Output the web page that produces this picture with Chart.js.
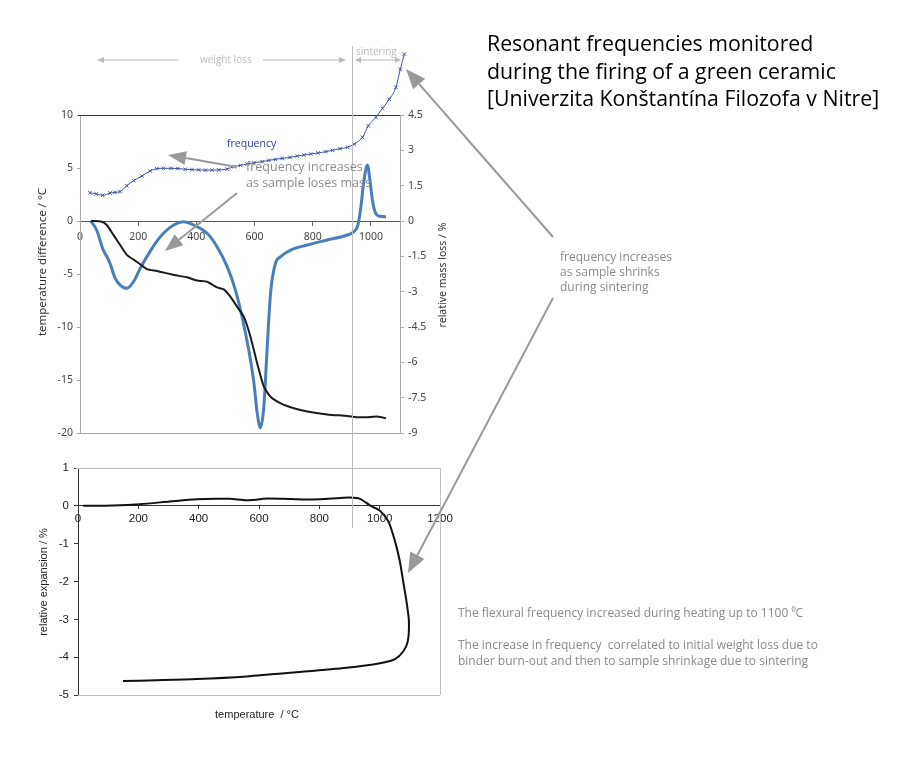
<!DOCTYPE html>
<html>
<head>
<meta charset="utf-8">
<script src="https://cdn.jsdelivr.net/npm/chart.js@4.4.1/dist/chart.umd.min.js"></script>
<style>
  body { margin: 0; background: #fff; }
  #page { position: relative; width: 910px; height: 768px; overflow: hidden; font-family: "Open Sans", sans-serif; }
  canvas { position: absolute; left: 0; }
  #upper { top: 0; }
  #lower { top: 450px; }
  svg { position: absolute; left: 0; top: 0; }
  .t { position: absolute; white-space: nowrap; }
  .rot { transform: translate(-50%, -50%) rotate(-90deg); }
  .mid { transform: translate(-50%, -50%); }
</style>
</head>
<body>
<div id="page">
  <canvas id="upper" width="460" height="445"></canvas>
  <canvas id="lower" width="460" height="285"></canvas>
  <svg id="notes" width="910" height="768"></svg>

  <div class="t rot" style="left:41px;top:262px;font:11.5px 'Noto Sans';color:#333">temperature difference / °C</div>
  <div class="t rot" style="left:442px;top:275px;font:10.5px 'Noto Sans';color:#333">relative mass loss / %</div>
  <div class="t rot" style="left:43px;top:582px;font:11px 'Liberation Sans';color:#222">relative expansion / %</div>
  <div class="t mid" style="left:257px;top:714px;font:11px 'Liberation Sans';color:#222">temperature&nbsp; / °C</div>

  <div class="t" style="left:200px;top:52px;font:10px 'Open Sans';color:#bbb">weight loss</div>
  <div class="t" style="left:356px;top:44px;font:10px 'Open Sans';color:#bbb">sintering</div>
  <div class="t" style="left:227px;top:136px;font:10.5px 'Open Sans';color:#2c3d96">frequency</div>
  <div class="t" style="left:246px;top:159px;font:12.5px/15.7px 'Open Sans';color:#8c8c8c">frequency increases<br>as sample loses mass</div>
  <div class="t" style="left:560px;top:249px;font:12px/15px 'Open Sans';color:#8a8a8a">frequency increases<br>as sample shrinks<br>during sintering</div>

  <div class="t" style="left:487px;top:29px;font:21.3px/27.5px 'Open Sans';color:#000">Resonant frequencies monitored<br>during the firing of a green ceramic<br>[Univerzita Konštantína Filozofa v Nitre]</div>

  <div class="t" style="left:458px;top:605px;font:12px/16px 'Open Sans';color:#8a8a8a">The flexural frequency increased during heating up to 1100 ⁰C</div>
  <div class="t" style="left:458px;top:637px;font:12px/16px 'Open Sans';color:#8a8a8a">The increase in frequency&nbsp; correlated to initial weight loss due to<br>binder burn-out and then to sample shrinkage due to sintering</div>
</div>

<script>
// upper chart: temperature (°C) on x
const freqT = [34, 56, 78, 103, 120, 138, 161, 184, 213, 241, 264, 287, 313, 336, 362, 385, 408, 431, 454, 477, 506, 529, 552, 575, 598, 626, 649, 672, 695, 722, 747, 770, 793, 818, 845, 868, 894, 920, 943, 971, 991, 1017, 1040, 1063, 1086, 1101, 1115];
const freqVal = [2.67, 2.55, 2.42, 2.64, 2.7, 2.77, 3.33, 3.8, 4.25, 4.72, 4.94, 4.97, 4.97, 4.95, 4.88, 4.85, 4.82, 4.8, 4.8, 4.82, 4.9, 5.13, 5.25, 5.38, 5.5, 5.6, 5.72, 5.82, 5.91, 6.0, 6.13, 6.23, 6.32, 6.42, 6.54, 6.67, 6.82, 6.95, 7.26, 7.9, 8.97, 9.78, 10.63, 11.48, 12.61, 14.31, 15.75];

const dtaT = [37, 57, 80, 95, 103, 121, 138, 161, 184, 207, 230, 259, 287, 322, 356, 391, 437, 471, 506, 534, 557, 580, 598, 609, 620, 632, 643, 655, 672, 690, 724, 781, 850, 919, 942, 955, 965, 975, 988, 997, 1005, 1015, 1030, 1052];
const dtaVal = [0, -0.85, -2.74, -3.5, -3.99, -5.41, -6.04, -6.35, -5.72, -4.47, -3.36, -2.11, -1.16, -0.38, -0.06, -0.38, -1.16, -2.42, -4.31, -6.5, -9.03, -12.17, -15.3, -18.1, -19.5, -17.5, -12.17, -6.82, -3.99, -3.36, -2.74, -2.26, -1.79, -1.32, -1.0, -0.4, 1.2, 3.6, 5.28, 3.8, 2.0, 0.8, 0.45, 0.4];

const tgT = [37, 75, 92, 115, 138, 161, 195, 230, 264, 310, 340, 368, 402, 437, 471, 494, 517, 540, 563, 586, 609, 632, 655, 690, 735, 781, 850, 919, 950, 977, 1000, 1023, 1052];
const tgVal = [0, -0.03, -0.17, -0.59, -1.02, -1.44, -1.73, -2.04, -2.12, -2.25, -2.33, -2.39, -2.53, -2.58, -2.82, -2.9, -3.21, -3.64, -4.06, -4.91, -6.04, -7.03, -7.46, -7.74, -7.95, -8.09, -8.21, -8.28, -8.33, -8.33, -8.32, -8.3, -8.38];

// lower chart: heating then cooling loop
const expT = [17, 116, 205, 304, 393, 459, 503, 559, 592, 614, 680, 747, 802, 857, 901, 935, 968, 1001, 1029, 1051, 1067, 1078, 1089, 1097, 1093, 1078, 1051, 1001, 890, 724, 559, 393, 260, 149];
const expVal = [0, 0.01, 0.044, 0.115, 0.176, 0.19, 0.185, 0.15, 0.16, 0.19, 0.185, 0.168, 0.176, 0.2, 0.22, 0.185, 0.01, -0.13, -0.41, -0.94, -1.47, -2.0, -2.53, -3.06, -3.59, -3.85, -4.05, -4.16, -4.28, -4.4, -4.51, -4.58, -4.61, -4.63];

const tempDiffRange = [-20, 10, 5];
const massLossRange = [-9, 4.5, 1.5];
const upperTempRange = [0, 1100, 200];
const expRange = [-5, 1, 1];
const lowerTempRange = [0, 1200, 200];

const pts = (xs, ys) => xs.map((x, i) => ({ x, y: ys[i] }));
const plain = { useGrouping: false };

// box round the plot area, one colour per side
const frame = {
  id: "frame",
  beforeDatasetsDraw(chart, args, o) {
    const { ctx, chartArea: a } = chart;
    const side = (c, x1, y1, x2, y2) => {
      if (!c) return;
      ctx.beginPath();
      ctx.strokeStyle = c;
      ctx.lineWidth = 1;
      ctx.moveTo(x1, y1);
      ctx.lineTo(x2, y2);
      ctx.stroke();
    };
    ctx.save();
    side(o.top, a.left - 2, Math.round(a.top) + 0.5, a.right, Math.round(a.top) + 0.5);
    side(o.bottom, a.left, Math.round(a.bottom) + 0.5, a.right, Math.round(a.bottom) + 0.5);
    side(o.right, Math.round(a.right) + 0.5, a.top, Math.round(a.right) + 0.5, a.bottom);
    ctx.restore();
  }
};

// chart.js skips points outside the chart area; draw those for unclipped sets
const freePoints = {
  id: "freePoints",
  afterDatasetsDraw(chart) {
    const a = chart.chartArea;
    const whole = { left: 0, top: 0, right: chart.width, bottom: chart.height };
    chart.data.datasets.forEach((ds, i) => {
      if (ds.clip !== false) return;
      chart.getDatasetMeta(i).data.forEach(p => {
        const m = 2.5;
        const inside = p.x > a.left - m && p.x < a.right + m && p.y > a.top - m && p.y < a.bottom + m;
        if (!inside) p.draw(chart.ctx, whole);
      });
    });
  }
};

// range set after the data limits so that points past the end are still drawn
const fixRange = s => { s.min = upperTempRange[0]; s.max = upperTempRange[1]; };

Chart.defaults.plugins.legend.display = false;
Chart.defaults.plugins.tooltip.enabled = false;

new Chart(document.getElementById("upper"), {
  type: "line",
  data: {
    datasets: [
      {
        data: pts(tgT, tgVal),
        yAxisID: "yM",
        borderColor: "#1a1a1a",
        borderWidth: 2,
        pointRadius: 0,
        tension: 0.2
      },
      {
        data: pts(dtaT, dtaVal),
        yAxisID: "yT",
        borderColor: "#4a7ebb",
        borderWidth: 3,
        pointRadius: 0,
        cubicInterpolationMode: "monotone"
      },
      {
        data: pts(freqT, freqVal),
        xAxisID: "xF",
        yAxisID: "yF",
        borderColor: "#3d55a0",
        borderWidth: 1,
        pointStyle: "crossRot",
        pointRadius: 2.5,
        pointBorderWidth: 1,
        pointBorderColor: "#3d55a0",
        cubicInterpolationMode: "monotone",
        clip: false
      }
    ]
  },
  options: {
    responsive: false,
    animation: false,
    layout: { padding: { top: 115, left: 0, right: 0, bottom: 12 } },
    plugins: { frame: { top: "#333", bottom: "#aaa", right: null } },
    scales: {
      x: {
        type: "linear",
        position: { yT: 0 },
        min: upperTempRange[0],
        max: upperTempRange[1],
        ticks: { stepSize: upperTempRange[2], includeBounds: false, format: plain, color: "#444", font: { family: "Noto Sans", size: 10.5 }, padding: 6, maxRotation: 0 },
        grid: { drawOnChartArea: false, tickLength: 4, color: "#666" },
        border: { color: "#555" }
      },
      xF: {
        type: "linear",
        display: false,
        bounds: "data",
        afterDataLimits: fixRange,
        afterBuildTicks: fixRange
      },
      yT: {
        position: "left",
        min: tempDiffRange[0],
        max: tempDiffRange[1],
        ticks: { stepSize: tempDiffRange[2], color: "#444", font: { family: "Noto Sans", size: 10.5 }, padding: 4 },
        grid: { drawOnChartArea: false, tickLength: 3, color: "#aaa" },
        border: { color: "#aaa" },
        afterFit: s => { s.width = 80; }
      },
      yF: {
        display: false,
        position: "left",
        min: tempDiffRange[0],
        max: tempDiffRange[1]
      },
      yM: {
        position: "right",
        min: massLossRange[0],
        max: massLossRange[1],
        ticks: { stepSize: massLossRange[2], color: "#444", font: { family: "Noto Sans", size: 10.5 }, padding: 4 },
        grid: { drawOnChartArea: false, tickLength: 4, color: "#aaa" },
        border: { color: "#aaa" },
        afterFit: s => { s.width = 60; }
      }
    }
  },
  plugins: [frame, freePoints]
});

new Chart(document.getElementById("lower"), {
  type: "line",
  data: {
    datasets: [{
      data: pts(expT, expVal),
      borderColor: "#111",
      borderWidth: 2,
      pointRadius: 0,
      tension: 0.25
    }]
  },
  options: {
    responsive: false,
    animation: false,
    layout: { padding: { top: 18, left: 0, right: 20, bottom: 40 } },
    plugins: { frame: { top: "#c0c0c0", bottom: "#c0c0c0", right: "#c0c0c0" } },
    scales: {
      x: {
        type: "linear",
        position: { y: 0 },
        min: lowerTempRange[0],
        max: lowerTempRange[1],
        ticks: { stepSize: lowerTempRange[2], format: plain, color: "#222", font: { family: "Liberation Sans", size: 11.5 }, padding: 3, maxRotation: 0 },
        grid: { drawOnChartArea: false, tickLength: 3, color: "#333" },
        border: { color: "#333" }
      },
      y: {
        position: "left",
        min: expRange[0],
        max: expRange[1],
        ticks: { stepSize: expRange[2], color: "#222", font: { family: "Liberation Sans", size: 11.5 }, padding: 5 },
        grid: { drawOnChartArea: false, tickLength: 4, color: "#333" },
        border: { color: "#333" },
        afterFit: s => { s.width = 78; }
      }
    }
  },
  plugins: [frame]
});

// annotation arrows and the sintering marker line
const svg = document.getElementById("notes");
const NS = "http://www.w3.org/2000/svg";
function el(name, attrs) {
  const e = document.createElementNS(NS, name);
  for (const k in attrs) e.setAttribute(k, attrs[k]);
  svg.appendChild(e);
  return e;
}
function arrow(x1, y1, x2, y2, color, w, len, half) {
  const dx = x2 - x1, dy = y2 - y1, d = Math.hypot(dx, dy);
  const ux = dx / d, uy = dy / d;
  const bx = x2 - ux * len, by = y2 - uy * len;
  el("line", { x1, y1, x2: bx, y2: by, stroke: color, "stroke-width": w });
  el("polygon", {
    points: `${x2},${y2} ${bx - uy * half},${by + ux * half} ${bx + uy * half},${by - ux * half}`,
    fill: color
  });
}

el("line", { x1: 352.5, y1: 46, x2: 352.5, y2: 528, stroke: "#bbb", "stroke-width": 1 });

arrow(178, 60, 97, 60, "#bbb", 1, 7, 3);
arrow(263, 60, 346, 60, "#bbb", 1, 7, 3);
arrow(378, 60, 355, 60, "#bbb", 1, 6, 3);
arrow(378, 60, 401, 60, "#bbb", 1, 6, 3);

arrow(237, 167, 168, 155, "#999", 2, 18, 7);
arrow(237, 193, 165, 251, "#999", 2, 18, 7);
arrow(553, 237, 406, 69, "#999", 2, 20, 8);
arrow(553, 298, 408, 573, "#999", 2, 20, 8);
</script>
</body>
</html>
